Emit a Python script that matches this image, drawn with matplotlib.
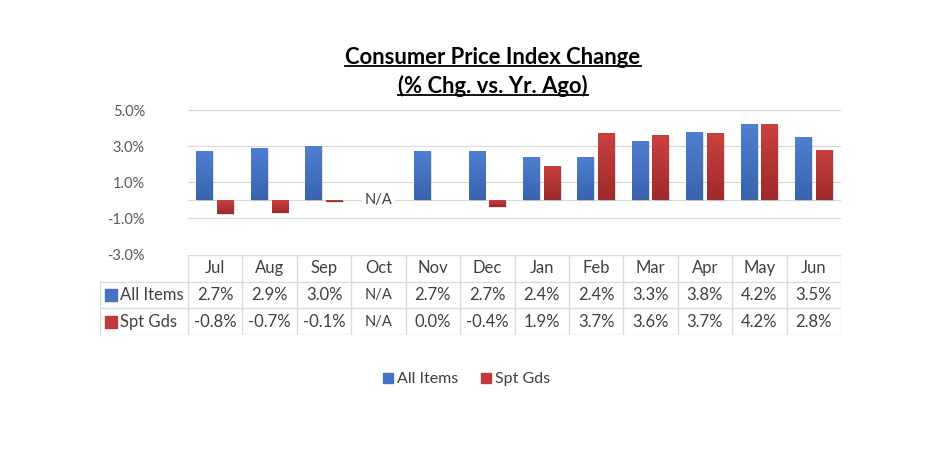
import numpy as np
import matplotlib.pyplot as plt
from matplotlib.colors import LinearSegmentedColormap
from matplotlib.lines import Line2D

plt.rcParams['font.family'] = ['Lato', 'DejaVu Sans']

months = ['Jul', 'Aug', 'Sep', 'Oct', 'Nov', 'Dec', 'Jan', 'Feb', 'Mar', 'Apr', 'May', 'Jun']
all_items = [2.7, 2.9, 3.0, np.nan, 2.7, 2.7, 2.4, 2.4, 3.3, 3.8, 4.2, 3.5]
spt_gds = [-0.8, -0.7, -0.1, np.nan, 0.0, -0.4, 1.9, 3.7, 3.6, 3.7, 4.2, 2.8]
series_names = ['All Items', 'Spt Gds']
yticks = [-3, -1, 1, 3, 5]

blue = '#4472C4'
red = '#C0393B'
grid_c = '#D9D9D9'
tbl_c = '#D6DCE5'
txt_c = '#404040'

fig = plt.figure(figsize=(9.25, 4.62), dpi=100)
ax = fig.add_axes([188/925, 1-254/462, 653/925, 144/462])
tax = fig.add_axes([100/925, 1-335/462, 741/925, 80/462])

x = np.arange(len(months))
w = 0.31
off = 0.19
cmaps = [LinearSegmentedColormap.from_list('b', ['#3A63AD', '#4F7ED2']),
         LinearSegmentedColormap.from_list('r', ['#9E2A2A', '#C9413F'])]
for vals, dx, col, cm in [(all_items, -off, blue, cmaps[0]), (spt_gds, off, red, cmaps[1])]:
    bars = ax.bar(x + dx, vals, w, color=col, zorder=3)
    for b in bars:
        h = b.get_height()
        if np.isnan(h) or h == 0:
            continue
        x0 = b.get_x()
        y0, y1 = sorted([b.get_y(), b.get_y() + h])
        # soft shadow
        ax.add_patch(plt.Rectangle((x0 + 0.02, y0 - 0.06), w, y1 - y0, color='#000000',
                                   alpha=0.12, zorder=2, lw=0))
        grad = np.linspace(1, 0, 50).reshape(-1, 1)
        im = ax.imshow(grad, extent=[x0, x0 + w, y0, y1], aspect='auto', cmap=cm,
                       zorder=4, origin='upper')
        im.set_clip_path(b)

ax.text(3, 0, 'N/A', ha='center', va='center', fontsize=10.5, color=txt_c, zorder=5,
        bbox=dict(facecolor='white', edgecolor='none', pad=2))

ax.set_xlim(-0.5, len(months) - 0.5)
ax.set_ylim(-3, 5)
ax.set_yticks(yticks)
ax.set_yticklabels([f'{v:.1f}%' for v in yticks], fontsize=10.5, color='#595959')
ax.tick_params(axis='y', length=0, pad=31)
ax.set_xticks([])
for s in ax.spines.values():
    s.set_visible(False)
for v in yticks[1:]:
    ax.axhline(v, color=grid_c, lw=0.8, zorder=1)
ax.axhline(0, color=grid_c, lw=0.8, zorder=1)

# data table
lab_w = 88 / 54.4
left = -0.5 - lab_w
tax.set_xlim(left, len(months) - 0.5)
tax.set_ylim(0, 3)
tax.axis('off')
tax.plot([-0.5, len(months) - 0.5], [3, 3], color=tbl_c, lw=1)
for yy in [2, 1, 0]:
    tax.plot([left, len(months) - 0.5], [yy, yy], color=tbl_c, lw=1)
for k in range(len(months) + 1):
    tax.plot([k - 0.5, k - 0.5], [0, 3], color=tbl_c, lw=1)
tax.plot([left, left], [0, 2], color=tbl_c, lw=1)

fs = 12
for i, m in enumerate(months):
    tax.text(i, 2.5, m, ha='center', va='center', fontsize=fs, color=txt_c)
for row, (vals, col, name) in enumerate([(all_items, blue, series_names[0]),
                                         (spt_gds, red, series_names[1])]):
    yc = 1.5 - row
    tax.plot(left + 0.2, yc, marker='s', ms=8.5, color=col, ls='none')
    tax.text(left + 0.36, yc, name, ha='left', va='center', fontsize=fs, color=txt_c)
    for i, v in enumerate(vals):
        s = 'N/A' if np.isnan(v) else f'{v:.1f}%'
        tax.text(i, yc, s, ha='center', va='center', fontsize=fs if s != 'N/A' else 10.5,
                 color=txt_c)

# legend
handles = [Line2D([], [], marker='s', ls='none', color=c, ms=7.5) for c in [blue, red]]
fig.legend(handles, series_names, loc='center', bbox_to_anchor=(465/925, 1-379/462),
           ncol=2, frameon=False, fontsize=11.5, handletextpad=0.1, columnspacing=1.2,
           labelcolor=txt_c, handlelength=1.0)

# title with underline
t1 = fig.text(493/925, 1-57/462, 'Consumer Price Index Change', ha='center', va='center',
              fontsize=15.8, fontweight='bold', color='black')
t2 = fig.text(493/925, 1-86/462, '(% Chg. vs. Yr. Ago)', ha='center', va='center',
              fontsize=15.8, fontweight='bold', color='black')
fig.canvas.draw()
r = fig.canvas.get_renderer()
for t in [t1, t2]:
    bb = t.get_window_extent(r).transformed(fig.transFigure.inverted())
    yl = bb.y0 + 0.004
    fig.add_artist(Line2D([bb.x0, bb.x1], [yl, yl], color='black', lw=1.3,
                          transform=fig.transFigure))

fig.savefig('out.png', dpi=100, facecolor='white')
